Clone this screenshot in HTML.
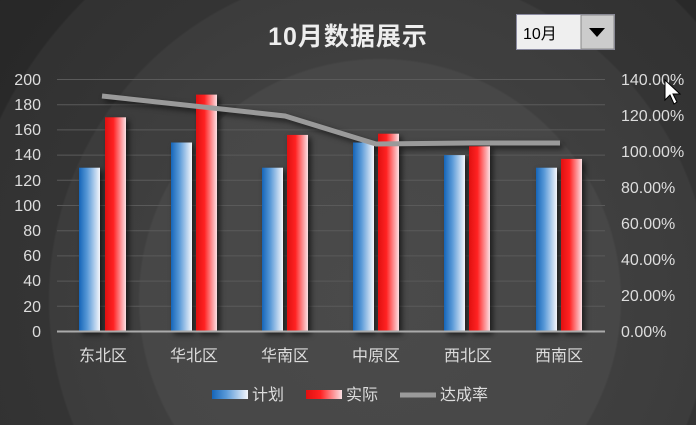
<!DOCTYPE html><html><head><meta charset="utf-8"><style>
body{margin:0;width:696px;height:425px;overflow:hidden;font-family:"Liberation Sans","Noto Sans CJK SC",sans-serif}
#c{position:relative;width:696px;height:425px;background:radial-gradient(circle at 380px 300px,#4a4a4a 0,#474747 240px,#3f3f3f 242px,#3c3c3c 330px,#343434 332px,#323232 420px,#292929 422px,#222 700px)}
</style></head><body><div id="c">
<svg width="696" height="425" style="position:absolute;left:0;top:0">
<defs>
<linearGradient id="b" x1="0" x2="1"><stop offset="0" stop-color="#1565b8"/><stop offset="0.4" stop-color="#5a9ad8"/><stop offset="1" stop-color="#f4f6fb"/></linearGradient>
<linearGradient id="r" x1="0" x2="1"><stop offset="0" stop-color="#e01010"/><stop offset="0.4" stop-color="#f22"/><stop offset="1" stop-color="#fbe0e4"/></linearGradient>
</defs>
<text x="348" y="45" fill="#eee" font-size="25" font-weight="bold" text-anchor="middle" letter-spacing="1" font-family="Liberation Sans,Noto Sans CJK SC,sans-serif">10月数据展示</text>
<g stroke="#5a5a5a" stroke-width="1">
<line x1="57" x2="605" y1="79.5" y2="79.5"/><line x1="57" x2="605" y1="104.7" y2="104.7"/><line x1="57" x2="605" y1="129.9" y2="129.9"/><line x1="57" x2="605" y1="155.1" y2="155.1"/><line x1="57" x2="605" y1="180.3" y2="180.3"/><line x1="57" x2="605" y1="205.5" y2="205.5"/><line x1="57" x2="605" y1="230.7" y2="230.7"/><line x1="57" x2="605" y1="255.9" y2="255.9"/><line x1="57" x2="605" y1="281.1" y2="281.1"/><line x1="57" x2="605" y1="306.3" y2="306.3"/>
</g>
<g fill="#ddd" font-size="16" text-anchor="end">
<text x="41" y="85">200</text><text x="41" y="110">180</text><text x="41" y="135">160</text><text x="41" y="160">140</text><text x="41" y="186">120</text><text x="41" y="211">100</text><text x="41" y="236">80</text><text x="41" y="261">60</text><text x="41" y="286">40</text><text x="41" y="312">20</text><text x="41" y="337">0</text>
</g>
<g fill="#ddd" font-size="16">
<text x="621" y="85">140.00%</text><text x="621" y="121">120.00%</text><text x="621" y="157">100.00%</text><text x="621" y="193">80.00%</text><text x="621" y="229">60.00%</text><text x="621" y="265">40.00%</text><text x="621" y="301">20.00%</text><text x="621" y="337">0.00%</text>
</g>
<g style="filter:drop-shadow(3px 3px 3px rgba(0,0,0,.6))">
<rect x="79" y="167.7" width="21" height="163.8" fill="url(#b)"/><rect x="105" y="117.3" width="21" height="214.2" fill="url(#r)"/>
<rect x="171" y="142.5" width="21" height="189" fill="url(#b)"/><rect x="196" y="94.6" width="21" height="236.9" fill="url(#r)"/>
<rect x="262" y="167.7" width="21" height="163.8" fill="url(#b)"/><rect x="287" y="134.9" width="21" height="196.6" fill="url(#r)"/>
<rect x="353" y="142.5" width="21" height="189" fill="url(#b)"/><rect x="378" y="133.7" width="21" height="197.8" fill="url(#r)"/>
<rect x="444" y="155.1" width="21" height="176.4" fill="url(#b)"/><rect x="469" y="146.3" width="21" height="185.2" fill="url(#r)"/>
<rect x="536" y="167.7" width="21" height="163.8" fill="url(#b)"/><rect x="561" y="158.9" width="21" height="172.6" fill="url(#r)"/>
<polyline points="102,96 194,106 285,116 376,144 468,143 560,143" fill="none" stroke="#9a9a9a" stroke-width="5"/>
</g>
<line x1="57" x2="605" y1="331.5" y2="331.5" stroke="#aaa" stroke-width="2"/>
<g fill="#ddd" font-size="16" text-anchor="middle">
<text x="103" y="361">东北区</text><text x="194" y="361">华北区</text><text x="285" y="361">华南区</text><text x="376" y="361">中原区</text><text x="468" y="361">西北区</text><text x="559" y="361">西南区</text>
</g>
<rect x="212" y="390" width="36" height="9" fill="url(#b)"/><text x="252" y="400" fill="#ddd" font-size="16">计划</text>
<rect x="306" y="390" width="36" height="9" fill="url(#r)"/><text x="346" y="400" fill="#ddd" font-size="16">实际</text>
<line x1="400" x2="436" y1="395" y2="395" stroke="#9a9a9a" stroke-width="5"/><text x="440" y="400" fill="#ddd" font-size="16">达成率</text>
<rect x="516.5" y="14.5" width="98" height="35" fill="#efefef" stroke="#8a8aa0"/>
<text x="523" y="39" fill="#000" font-size="16">10月</text>
<rect x="581" y="15" width="33" height="34" fill="#ccc" stroke="#888"/>
<polygon points="589,28 605,28 597,37" fill="#000"/>
<polygon points="665,80 665,100 670,95 674,104 677,102 673,94 680,94" fill="#fff" stroke="#000" stroke-width="1"/>
</svg></div></body></html>
